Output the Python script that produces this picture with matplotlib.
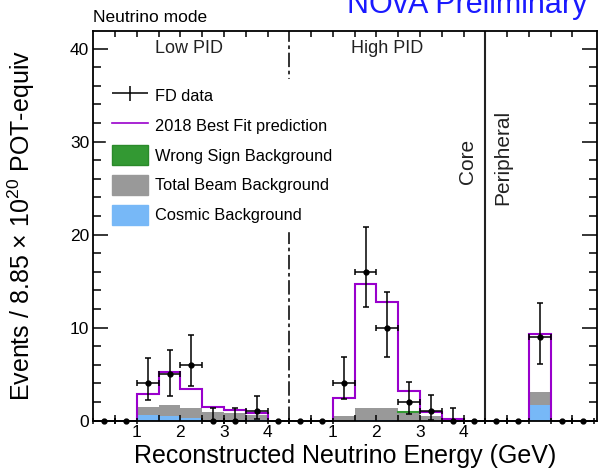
import numpy as np
import matplotlib
matplotlib.use('Agg')
import matplotlib.pyplot as plt
from matplotlib.patches import Patch
from matplotlib.lines import Line2D
from matplotlib.container import ErrorbarContainer
from matplotlib.legend_handler import HandlerErrorbar

plt.rcParams['font.family'] = ['Liberation Sans', 'DejaVu Sans']
plt.rcParams['mathtext.default'] = 'regular'

# 0.5 GeV bins, 0-4.5 GeV for the two PID bins, peripheral sample has 5 bins
pid_edges = np.arange(0, 4.51, 0.5)
periph_edges = np.arange(0, 2.51, 0.5)

# Low PID
low_pred = [0, 0, 2.9, 5.2, 3.4, 1.5, 1.2, 0.8, 0]
low_cosmic = [0, 0, 0.6, 0.5, 0.25, 0.1, 0.05, 0.05, 0]
low_beam = [0, 0, 0.9, 1.2, 1.1, 0.85, 0.8, 0.6, 0]
low_wsign = [0, 0, 0, 0, 0, 0, 0, 0, 0]
low_data = [0, 0, 4, 5, 6, 0, 0, 1, 0]
low_err_lo = [0, 0, 1.8, 2.3, 2.3, 0, 0, 0.8, 0]
low_err_hi = [0, 0, 2.7, 2.6, 3.2, 1.4, 1.4, 1.7, 0]

# High PID
high_pred = [0, 0, 2.45, 14.7, 12.8, 3.2, 0.95, 0.15, 0]
high_cosmic = [0, 0, 0.02, 0.03, 0.03, 0.02, 0.01, 0, 0]
high_beam = [0, 0, 0.53, 1.32, 1.32, 0.78, 0.49, 0.1, 0]
high_wsign = [0, 0, 0, 0, 0, 0.15, 0, 0, 0]
high_data = [0, 0, 4, 16, 10, 2, 1, 0, 0]
high_err_lo = [0, 0, 1.7, 3.8, 3.2, 1.25, 0.9, 0, 0]
high_err_hi = [0, 0, 2.8, 4.8, 3.8, 2.2, 1.75, 1.35, 0]

# Peripheral
per_pred = [0, 0, 9.3, 0, 0]
per_cosmic = [0, 0, 1.7, 0, 0]
per_beam = [0, 0, 1.4, 0, 0]
per_wsign = [0, 0, 0, 0, 0]
per_data = [0, 0, 9, 0, 0]
per_err_lo = [0, 0, 2.9, 0, 0]
per_err_hi = [0, 0, 3.7, 0, 0]

c_pred = '#9900cc'
c_wsign = '#339933'
c_beam = '#999999'
c_cosmic = '#77b8f7'

fig = plt.figure(figsize=(5.98, 4.73), dpi=100)
ax = fig.add_axes([0.156, 0.1106, 0.842, 0.824])


def draw_region(offset, edges, pred, cosmic, beam, wsign, data, elo, ehi):
    x = edges + offset
    cosmic = np.array(cosmic)
    beam_top = cosmic + np.array(beam)
    ws_top = beam_top + np.array(wsign)
    ax.stairs(cosmic, x, baseline=0, fill=True, color=c_cosmic, lw=0, zorder=1)
    ax.stairs(beam_top, x, baseline=cosmic, fill=True, color=c_beam, lw=0, zorder=1)
    ax.stairs(ws_top, x, baseline=beam_top, fill=True, color=c_wsign, lw=0, zorder=1)
    # green top edge only where there is wrong-sign background
    for i in np.nonzero(wsign)[0]:
        ax.plot(x[i:i + 2], [ws_top[i]] * 2, color=c_wsign, lw=1.5, zorder=1.5)
    # prediction outline, only over the filled range
    nz = np.nonzero(pred)[0]
    lo, hi = nz[0], nz[-1] + 1
    ax.stairs(np.array(pred)[lo:hi], x[lo:hi + 1], baseline=0,
              color=c_pred, lw=1.5, zorder=2)
    centers = (x[:-1] + x[1:]) / 2
    ax.errorbar(centers, data, xerr=0.25, yerr=[elo, ehi], fmt='o', ms=3.5,
                color='black', ecolor='black', elinewidth=1.1, capsize=2,
                capthick=1.1, clip_on=False, zorder=3)


draw_region(0.0, pid_edges, low_pred, low_cosmic, low_beam, low_wsign,
            low_data, low_err_lo, low_err_hi)
draw_region(4.5, pid_edges, high_pred, high_cosmic, high_beam, high_wsign,
            high_data, high_err_lo, high_err_hi)
draw_region(9.0, periph_edges, per_pred, per_cosmic, per_beam, per_wsign,
            per_data, per_err_lo, per_err_hi)

# region dividers
ax.axvline(4.5, color='#222222', lw=1.3, ls=(0, (8, 2, 2, 2)), zorder=2)
ax.axvline(9.0, color='#222222', lw=1.5, zorder=2)

ax.set_xlim(0, 11.56)
ax.set_ylim(0, 41.9)

energy_ticks = [1, 2, 3, 4]
ax.set_xticks([e + off for off in (0, 4.5) for e in energy_ticks],
              [str(e) for off in (0, 4.5) for e in energy_ticks])
minor_x = [m + off for off in (0, 4.5) for m in np.arange(0.5, 4.5, 0.5)]
minor_x += [9.0 + m for m in np.arange(0.5, 2.5, 0.5)]
ax.set_xticks(minor_x, minor=True)
ax.set_yticks([0, 10, 20, 30, 40])
ax.set_yticks(np.arange(0, 42, 2), minor=True)

ax.tick_params(axis='x', which='both', direction='in', top=True, length=4,
               width=1.1, labelsize=12.5, pad=3)
ax.tick_params(axis='y', which='major', direction='in', right=True, length=11,
               width=1.1, labelsize=12.5, pad=3)
ax.tick_params(axis='y', which='minor', direction='in', right=True, length=5.5,
               width=1.1)
for s in ax.spines.values():
    s.set_linewidth(1.3)

ax.set_xlabel('Reconstructed Neutrino Energy (GeV)', fontsize=18)
ax.xaxis.set_label_coords(0.5, -0.06)
ax.set_ylabel('Events / 8.85 × 10$^{20}$ POT-equiv', fontsize=18)
ax.yaxis.set_label_coords(-0.112, 0.5)

# region labels
ax.text(2.2, 40.0, 'Low PID', fontsize=13, ha='center', va='center', color='#222222')
ax.text(6.75, 40.0, 'High PID', fontsize=13, ha='center', va='center', color='#222222')
ax.text(8.6, 27.9, 'Core', fontsize=15, rotation=90, ha='center', va='center',
        color='#222222')
ax.text(9.4, 28.3, 'Peripheral', fontsize=15, rotation=90, ha='center',
        va='center', color='#222222')

fig.text(0.155, 1 - 21.5 / 473, 'Neutrino mode', fontsize=12.5, ha='left',
         va='baseline')
fig.text(0.580, 1 - 13 / 473, 'NOvA Preliminary', fontsize=22, ha='left',
         va='baseline', color='#1a1aff')

handles = [
    ax.errorbar([], [], xerr=1, yerr=1, fmt='none', color='black', elinewidth=1.1),
    Line2D([], [], color=c_pred, lw=1.2),
    Patch(facecolor=c_wsign, edgecolor='#2a8a2a'),
    Patch(facecolor=c_beam, edgecolor=c_beam),
    Patch(facecolor=c_cosmic, edgecolor=c_cosmic),
]
labels = ['FD data', '2018 Best Fit prediction', 'Wrong Sign Background',
          'Total Beam Background', 'Cosmic Background']
leg = ax.legend(handles, labels, loc='upper left',
                bbox_to_anchor=((106 - 93.5) / 503.5, (420.7 - 79) / 389.7),
                borderaxespad=0, fontsize=11.8, frameon=True, fancybox=False,
                handlelength=2.2, handleheight=1.5, handletextpad=0.4,
                labelspacing=0.6, borderpad=0.4,
                handler_map={ErrorbarContainer: HandlerErrorbar(xerr_size=1.1,
                                                               yerr_size=0.45)})
leg.get_frame().set_facecolor('white')
leg.get_frame().set_edgecolor('white')
leg.get_frame().set_alpha(1)
leg.set_zorder(5)

fig.savefig('out.png', dpi=100)
